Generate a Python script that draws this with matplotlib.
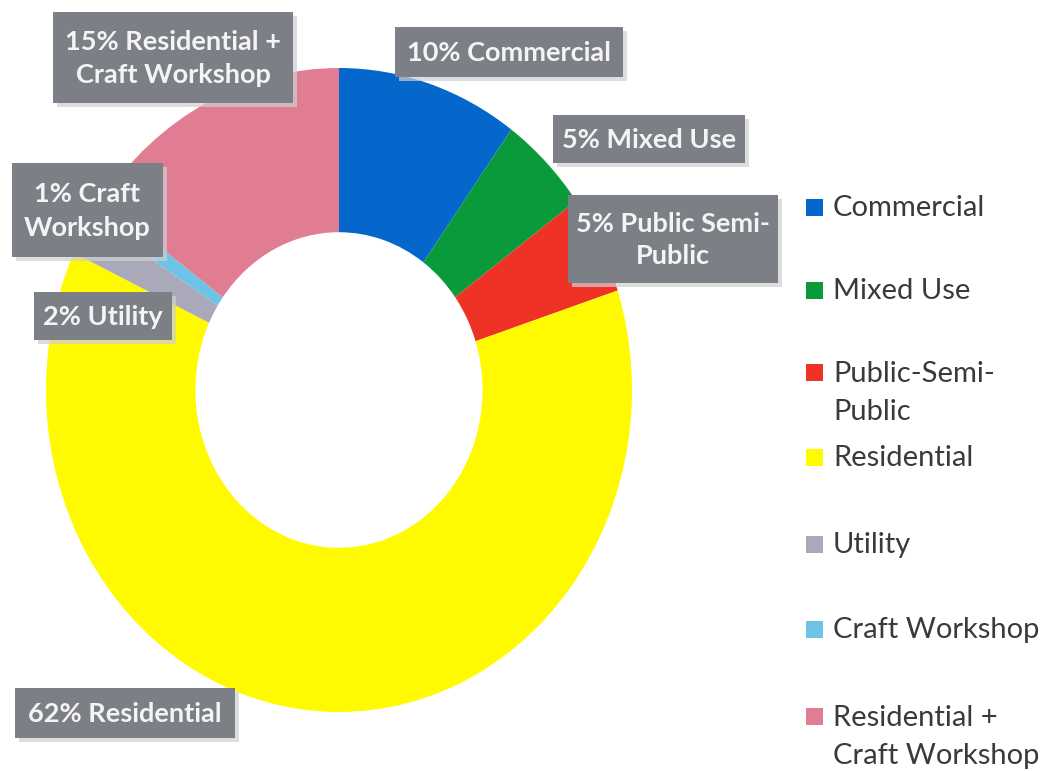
import matplotlib
matplotlib.use('Agg')
import matplotlib.pyplot as plt
from matplotlib.patches import Rectangle

# land-use shares (%)
categories = ['Commercial', 'Mixed Use', 'Public-Semi-\nPublic', 'Residential',
              'Utility', 'Craft Workshop', 'Residential +\nCraft Workshop']
shares = [10, 5, 5, 62, 2, 1, 15]
slice_labels = ['Commercial', 'Mixed Use', 'Public Semi-\nPublic', 'Residential',
                'Utility', 'Craft\nWorkshop', 'Residential +\nCraft Workshop']
colors = ['#0566CC', '#0A9A3C', '#EE3326', '#FFFA00', '#A9A9BA', '#6EC3E6', '#E07D92']

W, H = 1043, 771
fig = plt.figure(figsize=(W / 100, H / 100), dpi=100)


def fx(x):
    return x / W


def fy(y):
    return 1 - y / H


# ring is slightly taller than wide
cx, cy, rx, ry = 339, 390, 293, 322
ax = fig.add_axes([fx(cx - rx), fy(cy + ry), 2 * rx / W, 2 * ry / H])
ax.pie(shares, colors=colors, startangle=90, counterclock=False,
       wedgeprops=dict(width=0.51, linewidth=0))
ax.set_aspect('auto')
ax.set_xlim(-1, 1)
ax.set_ylim(-1, 1)
ax.axis('off')

# grey callout boxes (left, top, right, bottom in pixels)
boxes = [(395, 27, 623, 77), (553, 115, 745, 163), (568, 195, 778, 283),
         (15, 688, 235, 738), (34, 292, 172, 340), (12, 163, 163, 257),
         (53, 12, 293, 103)]
for name, val, (l, t, r, b) in zip(slice_labels, shares, boxes):
    fig.patches.append(Rectangle((fx(l + 4), fy(b + 4)), (r - l) / W, (b - t) / H,
                                 transform=fig.transFigure, facecolor='#cfcfd3',
                                 edgecolor='none', alpha=0.7, zorder=5))
    fig.patches.append(Rectangle((fx(l), fy(b)), (r - l) / W, (b - t) / H,
                                 transform=fig.transFigure, facecolor='#7d7f87',
                                 edgecolor='none', zorder=6))
    fig.text(fx((l + r) / 2), fy((t + b) / 2 + 1), f'{val}% {name}', color='#f4f4f4',
             fontsize=19.5, fontweight='bold', family='Lato', ha='center',
             va='center', linespacing=1.45, zorder=7)

# legend on the right
leg_y = [208, 291, 373, 458, 545, 630, 717]
for name, c, y in zip(categories, colors, leg_y):
    fig.patches.append(Rectangle((fx(806), fy(y + 8)), 17 / W, 17 / H,
                                 transform=fig.transFigure, facecolor=c,
                                 edgecolor='none'))
    nl = name.count('\n')
    fig.text(fx(833), fy(y + nl * 20), name, color='#3a3a3a', fontsize=21,
             family='Lato', ha='left', va='center', linespacing=1.55)

fig.savefig('out.png', dpi=100, facecolor='white')
